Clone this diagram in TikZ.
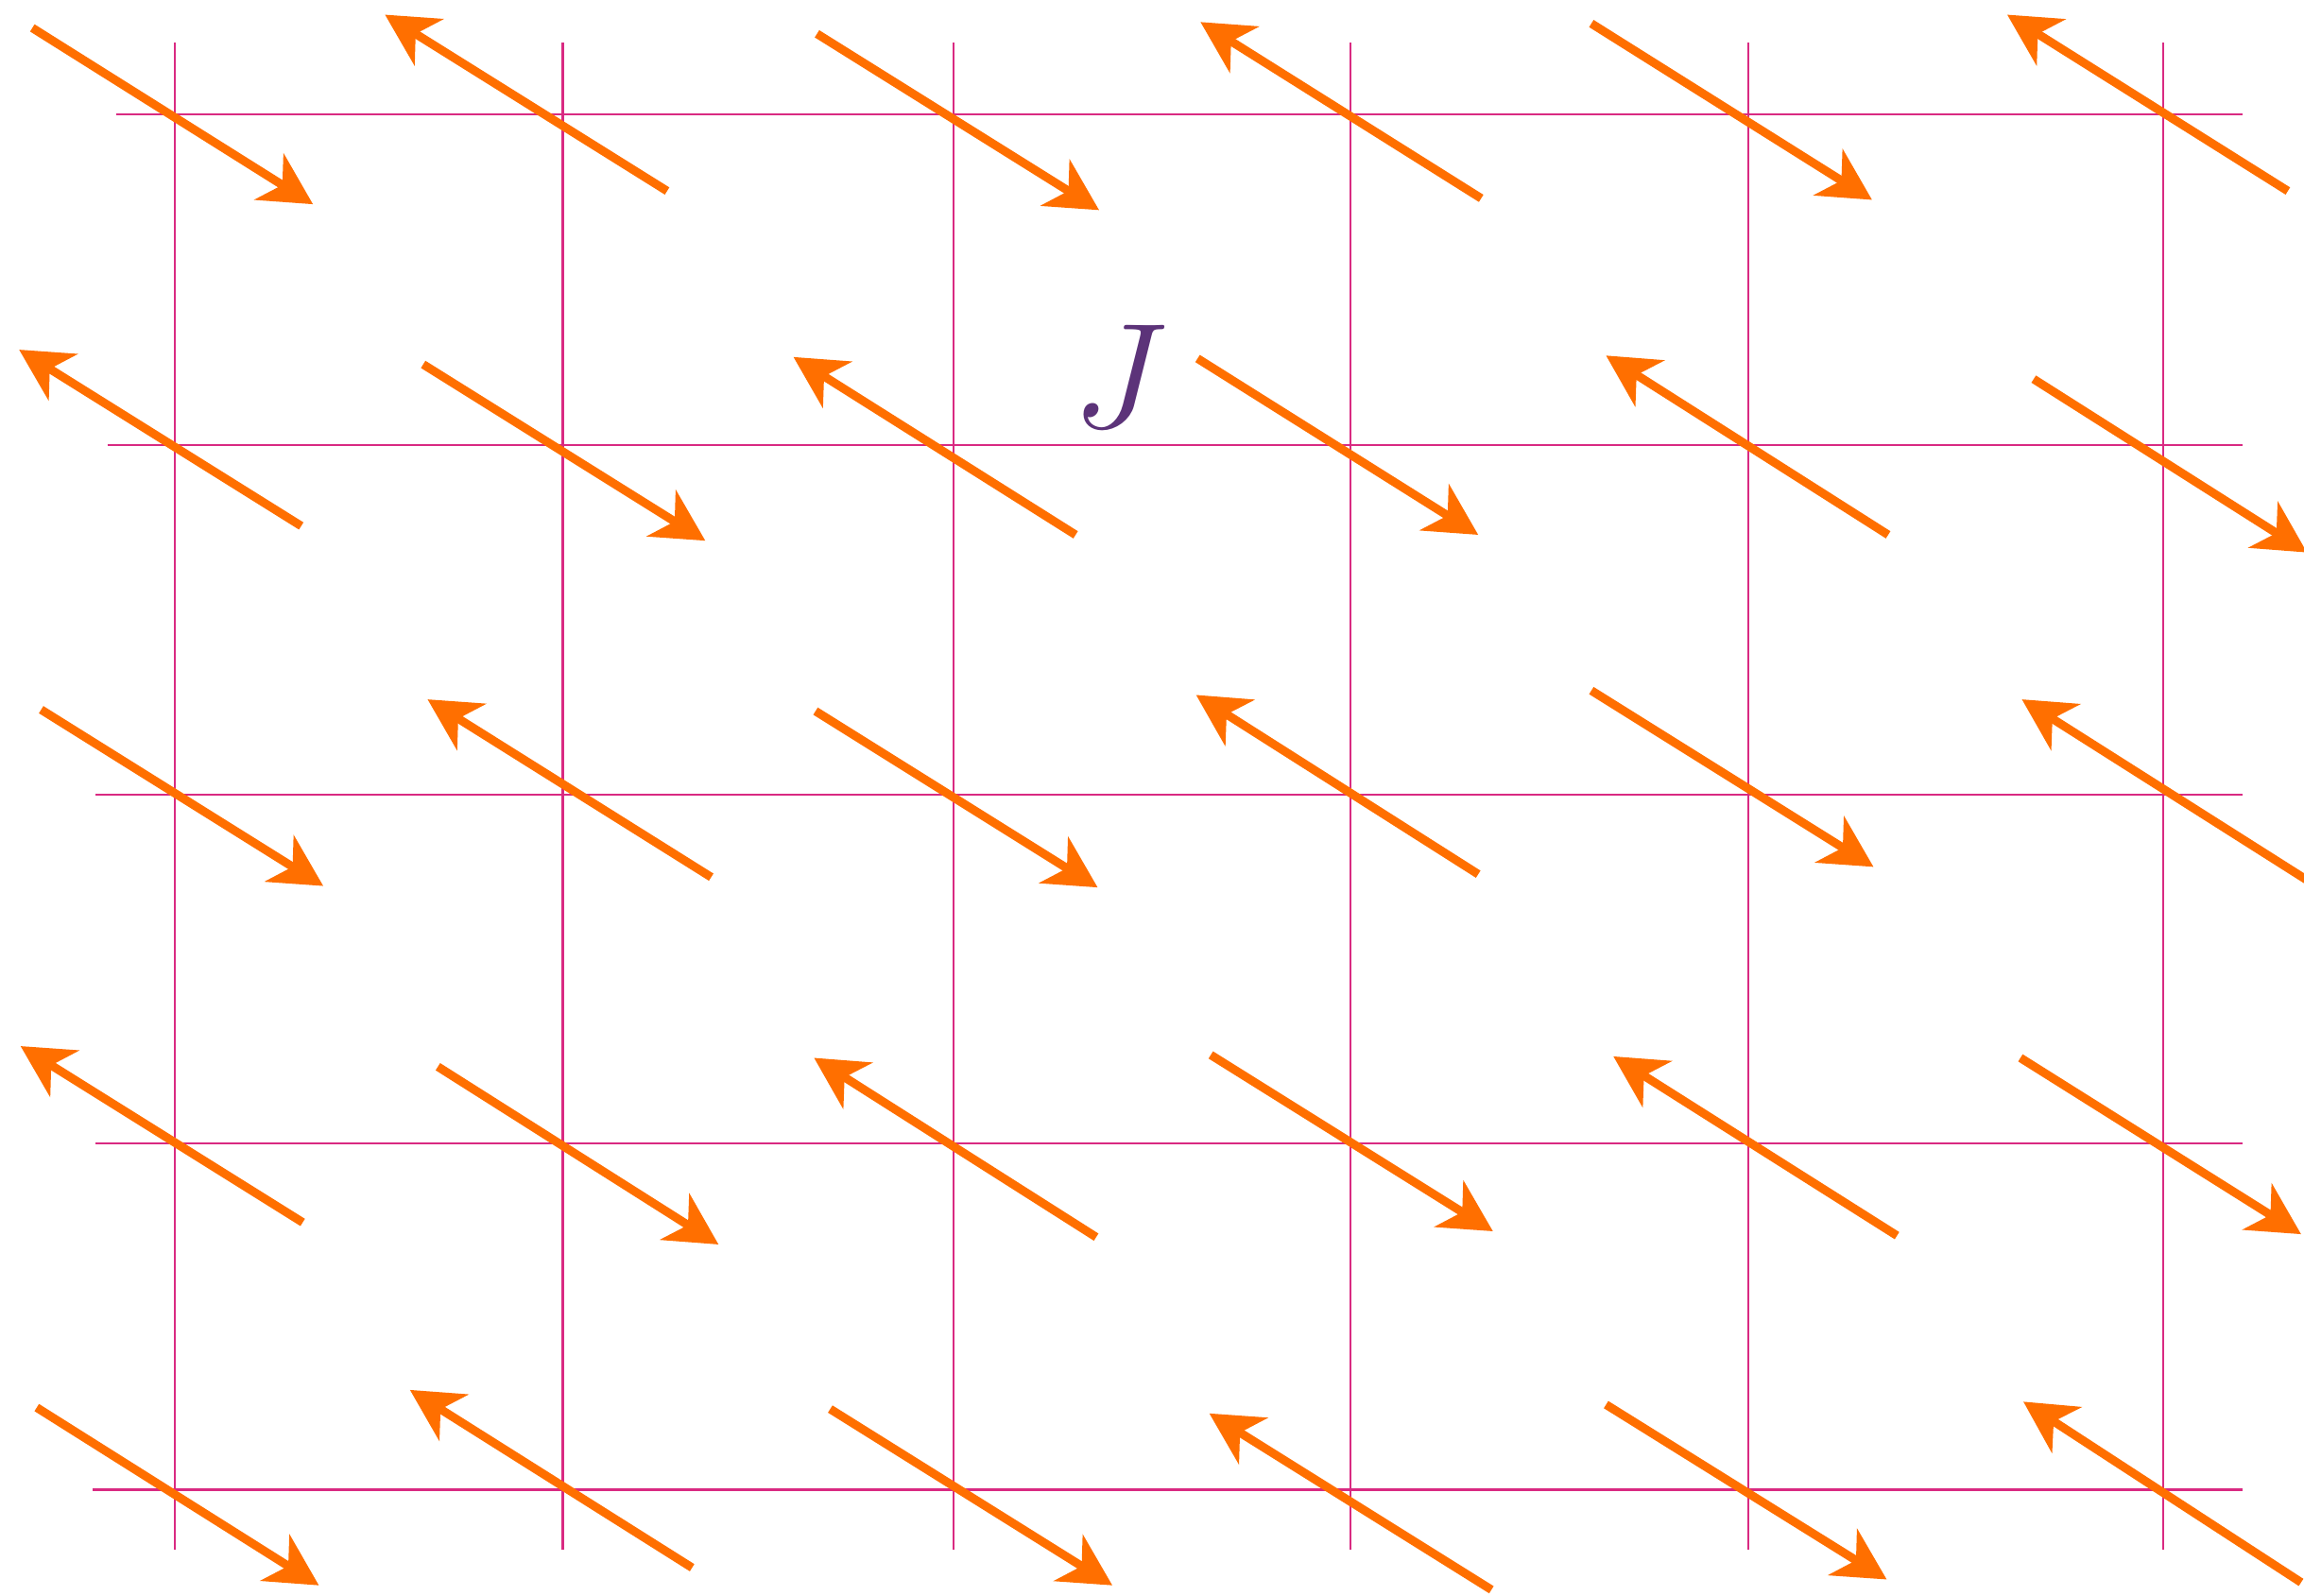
\documentclass[tikz,border=0pt]{standalone}
\usepackage{fix-cm}
\usepackage{tikz}
\usetikzlibrary{arrows.meta}
\definecolor{spinOrange}{HTML}{FF6F00}
\definecolor{gridPink}{HTML}{D92A82}
\definecolor{couplingPurple}{HTML}{5C3379}
\tikzset{
    gridline/.style={gridPink, line width=0.85pt},
    spin/.style={spinOrange, line width=3.3pt,
        -{Stealth[length=20pt, width=21pt, inset=6pt]}},
}

\begin{document}
\begin{tikzpicture}[x=0.02cm, y=-0.02cm]
    \useasboundingbox (0,0) rectangle (1568,1086);
    % Lattice
    \foreach \x in {119,383,649,919,1190,1472} {
        \draw[gridline] (\x,29) -- (\x,1055);
    }
    \foreach \y/\xs in {78/79,303/73,541/65,778/65,1014/63} {
        \draw[gridline] (\xs,\y) -- (1526,\y);
    }
    % Spins (tail -- head)
    \foreach \ax/\ay/\bx/\by in {
        22/19/213/139, 454/130/262/10, 556/23/748/143,
        1008/135/817/15, 1083/16/1274/136, 1557/130/1366/10,
        205/358/13/238, 288/248/480/368, 732/364/540/243,
        815/244/1006/364, 1285/364/1093/242, 1384/258/1570/376,
        28/483/220/603, 484/597/291/476, 555/484/747/604,
        1006/595/814/473, 1083/470/1275/590, 1570/599/1376/476,
        206/832/14/712, 298/726/489/847, 746/842/554/720,
        824/718/1016/838, 1291/841/1098/719, 1375/720/1566/840,
        25/958/217/1079, 471/1067/279/946, 565/959/757/1079,
        1015/1082/823/962, 1093/956/1284/1075, 1566/1077/1377/954} {
        \draw[spin] (\ax,\ay) -- (\bx,\by);
    }
    % Coupling
    \node[couplingPurple, font=\fontsize{58}{58}\selectfont]
        (coupling) at (762,256) {$J$};
\end{tikzpicture}
\end{document}
